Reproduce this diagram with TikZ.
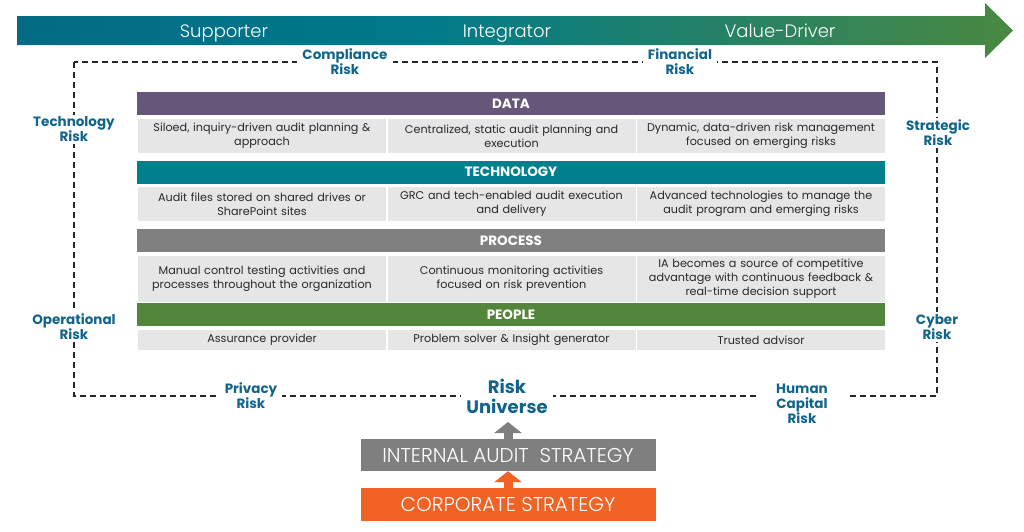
\documentclass[tikz,border=0pt]{standalone}
\usepackage{fontspec}
\setmainfont{Poppins}
\newfontfamily\lightfont{Poppins Light}
\usetikzlibrary{arrows.meta}

\definecolor{riskblue}{RGB}{18,101,138}
\definecolor{journeyblue}{RGB}{10,86,126}
\definecolor{journeyteal}{RGB}{0,122,138}
\definecolor{journeygreen}{RGB}{80,138,58}
\definecolor{datapurple}{RGB}{101,86,122}
\definecolor{techteal}{RGB}{0,128,141}
\definecolor{processgray}{RGB}{128,128,128}
\definecolor{peoplegreen}{RGB}{83,133,58}
\definecolor{cellgray}{RGB}{230,230,230}
\definecolor{celltext}{RGB}{40,40,40}
\definecolor{iagray}{RGB}{127,127,127}
\definecolor{corporange}{RGB}{241,99,36}
\pgfdeclarehorizontalshading{journey}{100bp}{color(0bp)=(journeyblue); color(45bp)=(journeyteal); color(78bp)=(journeygreen); color(100bp)=(journeygreen)}

\begin{document}
\begin{tikzpicture}[x=1pt, y=-1pt,
    stage/.style={font=\lightfont\fontsize{18}{20}\selectfont, text=white, anchor=base},
    risk/.style={font=\bfseries\fontsize{13.5}{15}\selectfont, text=riskblue, align=center, fill=white, inner xsep=5pt, inner ysep=2pt},
    bar/.style={minimum width=748pt, minimum height=23pt, inner sep=0pt, text=white, font=\bfseries\fontsize{13.5}{15}\selectfont},
    cell/.style={fill=cellgray, text width=238pt, inner xsep=5pt, inner ysep=0pt, minimum height=#1, align=center, text=celltext, font=\fontsize{11.2}{14}\selectfont},
    box/.style={minimum width=295pt, minimum height=32pt, inner sep=0pt, text=white, font=\lightfont\fontsize{20}{22}\selectfont},
    blockarrow/.style={line width=9pt, -{Triangle[length=11pt, width=27pt]}}]
    \useasboundingbox (0,0) rectangle (1024,531);

    % Journey arrow
    \shade[shading=journey] (17,16) -- (985,16) -- (985,3) -- (1013,30.5) -- (985,58) -- (985,45) -- (17,45) -- cycle;
    \node[stage] (supporter) at (224,37.5) {Supporter};
    \node[stage] (integrator) at (507,37.5) {Integrator};
    \node[stage] (valuedriver) at (780,37.5) {Value-Driver};

    % Risk universe frame
    \draw[black!85, line width=1.2pt, dash pattern=on 6pt off 4pt] (74,62) rectangle (937,396);
    \node[risk] (compliance) at (345,61.5) {Compliance\\Risk};
    \node[risk] (financial) at (680,61.5) {Financial\\Risk};
    \node[risk] (technology) at (74,129.5) {Technology\\Risk};
    \node[risk] (strategic) at (938,133) {Strategic\\Risk};
    \node[risk] (operational) at (74,326.5) {Operational\\Risk};
    \node[risk] (cyber) at (937,327) {Cyber\\Risk};
    \node[risk] (privacy) at (251,395.5) {Privacy\\Risk};
    \node[risk, inner xsep=18pt] (humancapital) at (802,404) {Human\\Capital\\Risk};
    \node[risk, font=\bfseries\fontsize{18}{20}\selectfont] (universe) at (507,396) {Risk\\Universe};

    % Data
    \node[bar, fill=datapurple] (data) at (511,103.5) {DATA};
    \node[cell=34pt] (data1) at (262,136) {Siloed, inquiry-driven audit planning \&\\approach};
    \node[cell=34pt] (data2) at (511.5,136) {Centralized, static audit planning and\\execution};
    \node[cell=34pt] (data3) at (761,136) {Dynamic, data-driven risk management\\focused on emerging risks};

    % Technology
    \node[bar, fill=techteal] (tech) at (511,172) {TECHNOLOGY};
    \node[cell=34pt] (tech1) at (262,204) {Audit files stored on shared drives or\\SharePoint sites};
    \node[cell=34pt] (tech2) at (511.5,204) {GRC and tech-enabled audit execution\\and delivery};
    \node[cell=34pt] (tech3) at (761,204) {Advanced technologies to manage the\\audit program and emerging risks};

    % Process
    \node[bar, fill=processgray] (process) at (511,240.5) {PROCESS};
    \node[cell=46pt] (process1) at (262,279) {Manual control testing activities and\\processes throughout the organization};
    \node[cell=46pt] (process2) at (511.5,279) {Continuous monitoring activities\\focused on risk prevention};
    \node[cell=46pt] (process3) at (761,279) {IA becomes a source of competitive\\advantage with continuous feedback \&\\real-time decision support};

    % People
    \node[bar, fill=peoplegreen] (people) at (511,314.5) {PEOPLE};
    \node[cell=20pt] (people1) at (262,340) {Assurance provider};
    \node[cell=20pt] (people2) at (511.5,340) {Problem solver \& Insight generator};
    \node[cell=20pt] (people3) at (761,340) {Trusted advisor};

    % Strategy boxes
    \node[box, fill=iagray] (ias) at (508,455) {INTERNAL AUDIT~ STRATEGY};
    \node[box, fill=corporange, minimum height=33pt] (corp) at (508,504.5) {CORPORATE STRATEGY};
    \coordinate (uarrow) at (508,422);
    \draw[blockarrow, iagray] (ias.north) -- (uarrow);
    \draw[blockarrow, corporange] (corp.north) -- (ias.south);
\end{tikzpicture}
\end{document}
